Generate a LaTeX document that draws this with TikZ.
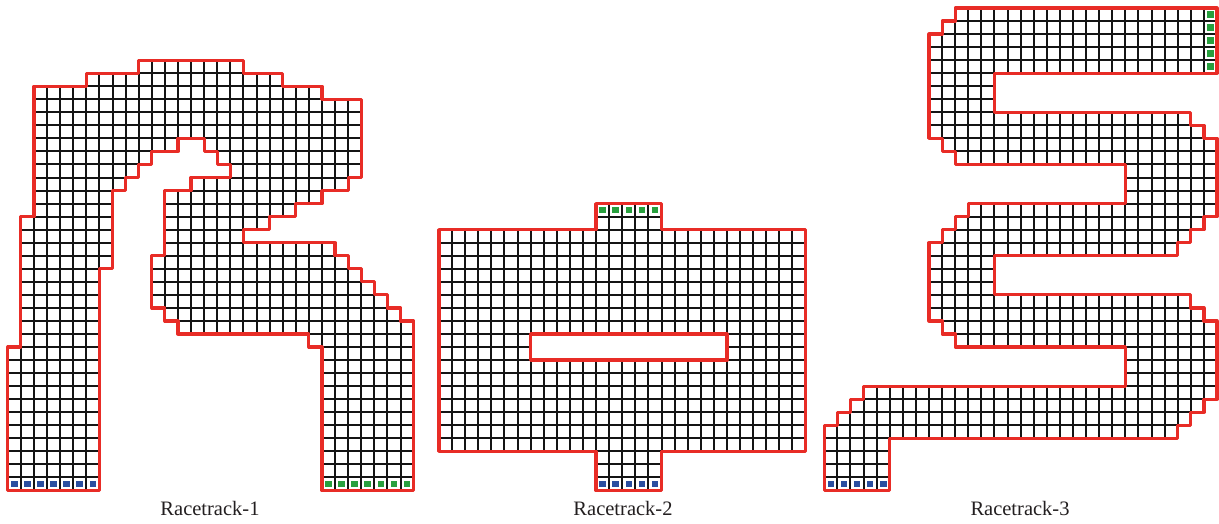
\documentclass[tikz,border=0pt]{standalone}
\usepackage{fontspec}
\setmainfont{Liberation Serif}
\definecolor{trackred}{RGB}{232,44,38}
\definecolor{startblue}{RGB}{42,78,160}
\definecolor{goalgreen}{RGB}{40,160,62}
\definecolor{gridblack}{RGB}{20,20,20}
\definecolor{labelgray}{RGB}{35,31,32}
\tikzset{
 gridline/.style={draw=gridblack, line width=2pt, step=1},
 outline/.style={draw=trackred, line width=3.2pt, line join=round},
 startcell/.style={fill=startblue},
 goalcell/.style={fill=goalgreen},
 tracklabel/.style={anchor=base, text=labelgray, font=\fontsize{20.5}{24}\selectfont, inner sep=0pt},
 cellscope/.style={x=13.09pt, y=13.04pt}
}
\def\RTonePath{(0,0) -- (0,11) -- (1,11) -- (1,21) -- (2,21) -- (2,31) -- (6,31) -- (6,32) -- (10,32) -- (10,33) -- (18,33) -- (18,32) -- (21,32) -- (21,31) -- (24,31) -- (24,30) -- (27,30) -- (27,24) -- (26,24) -- (26,23) -- (24,23) -- (24,22) -- (22,22) -- (22,21) -- (20,21) -- (20,20) -- (18,20) -- (18,19) -- (25,19) -- (25,18) -- (26,18) -- (26,17) -- (27,17) -- (27,16) -- (28,16) -- (28,15) -- (29,15) -- (29,14) -- (30,14) -- (30,13) -- (31,13) -- (31,0) -- (24,0) -- (24,11) -- (23,11) -- (23,12) -- (13,12) -- (13,13) -- (12,13) -- (12,14) -- (11,14) -- (11,18) -- (12,18) -- (12,23) -- (14,23) -- (14,24) -- (17,24) -- (17,25) -- (16,25) -- (16,26) -- (15,26) -- (15,27) -- (13,27) -- (13,26) -- (11,26) -- (11,25) -- (10,25) -- (10,24) -- (9,24) -- (9,23) -- (8,23) -- (8,17) -- (7,17) -- (7,0) -- cycle}
\def\RTtwoPath{(0,3) -- (12,3) -- (12,0) -- (17,0) -- (17,3) -- (28,3) -- (28,20) -- (17,20) -- (17,22) -- (12,22) -- (12,20) -- (0,20) -- cycle}
\def\RTtwoHole{(7,10) -- (22,10) -- (22,12) -- (7,12) -- cycle}
\def\RTthreePath{(0,0) -- (0,5) -- (1,5) -- (1,6) -- (2,6) -- (2,7) -- (3,7) -- (3,8) -- (23,8) -- (23,11) -- (10,11) -- (10,12) -- (9,12) -- (9,13) -- (8,13) -- (8,19) -- (9,19) -- (9,20) -- (10,20) -- (10,21) -- (11,21) -- (11,22) -- (23,22) -- (23,25) -- (10,25) -- (10,26) -- (9,26) -- (9,27) -- (8,27) -- (8,35) -- (9,35) -- (9,36) -- (10,36) -- (10,37) -- (30,37) -- (30,32) -- (13,32) -- (13,29) -- (28,29) -- (28,28) -- (29,28) -- (29,27) -- (30,27) -- (30,21) -- (29,21) -- (29,20) -- (28,20) -- (28,19) -- (27,19) -- (27,18) -- (13,18) -- (13,15) -- (28,15) -- (28,14) -- (29,14) -- (29,13) -- (30,13) -- (30,7) -- (29,7) -- (29,6) -- (28,6) -- (28,5) -- (27,5) -- (27,4) -- (5,4) -- (5,0) -- cycle}
\begin{document}
\begin{tikzpicture}[x=1pt,y=1pt]
\fill[white] (0,0) rectangle (1219,524);
\useasboundingbox (0,0) rectangle (1219,524);
% Racetrack-1
\begin{scope}[xshift=7.8pt, yshift=33.5pt, cellscope]
 \begin{scope}\clip \RTonePath; \draw[gridline] (0,0) grid (31,33); \end{scope}
 \draw[outline] \RTonePath;
 \foreach \c in {0,...,6} \fill[startcell] (\c+0.5,0.5) +(-3.3pt,-3.3pt) rectangle +(3.3pt,3.3pt);
 \foreach \c in {24,...,30} \fill[goalcell] (\c+0.5,0.5) +(-3.3pt,-3.3pt) rectangle +(3.3pt,3.3pt);
\end{scope}
% Racetrack-2
\begin{scope}[xshift=439pt, yshift=33.5pt, cellscope]
 \begin{scope}\clip \RTtwoPath; \draw[gridline] (0,0) grid (28,22); \end{scope}
 \fill[white] \RTtwoHole;
 \draw[outline] \RTtwoPath;
 \draw[outline] \RTtwoHole;
 \foreach \c in {12,...,16} \fill[startcell] (\c+0.5,0.5) +(-3.3pt,-3.3pt) rectangle +(3.3pt,3.3pt);
 \foreach \c in {12,...,16} \fill[goalcell] (\c+0.5,21.5) +(-3.3pt,-3.3pt) rectangle +(3.3pt,3.3pt);
\end{scope}
% Racetrack-3
\begin{scope}[xshift=824.3pt, yshift=33.5pt, cellscope]
 \begin{scope}\clip \RTthreePath; \draw[gridline] (0,0) grid (30,37); \end{scope}
 \draw[outline] \RTthreePath;
 \foreach \c in {0,...,4} \fill[startcell] (\c+0.5,0.5) +(-3.3pt,-3.3pt) rectangle +(3.3pt,3.3pt);
 \foreach \r in {32,...,36} \fill[goalcell] (29.5,\r+0.5) +(-3.3pt,-3.3pt) rectangle +(3.3pt,3.3pt);
\end{scope}
\node[tracklabel] (lab1) at (210,8) {Racetrack-1};
\node[tracklabel] (lab2) at (623,8) {Racetrack-2};
\node[tracklabel] (lab3) at (1020,8) {Racetrack-3};
\end{tikzpicture}
\end{document}
